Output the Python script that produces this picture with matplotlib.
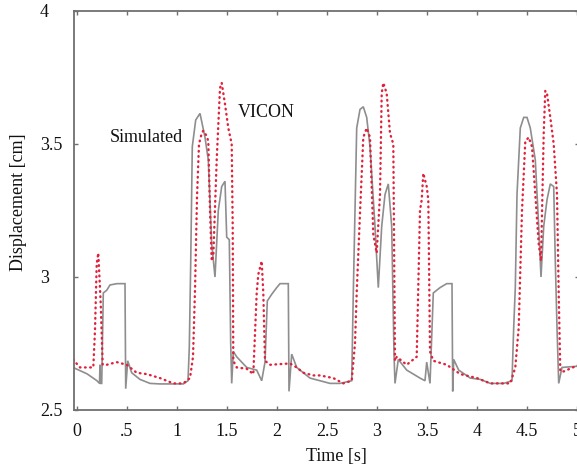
import matplotlib
matplotlib.use("Agg")
import matplotlib.pyplot as plt

# ---- data ----
sim_t = [-0.04, 0.10, 0.20, 0.225, 0.23, 0.235, 0.247, 0.263, 0.297, 0.33, 0.40, 0.48, 0.487, 0.507,
         0.547, 0.63, 0.73, 0.83, 1.063, 1.11, 1.123, 1.137, 1.153, 1.187, 1.23, 1.28, 1.313,
         1.347, 1.38, 1.413, 1.447, 1.48, 1.497, 1.523, 1.537, 1.547, 1.563, 1.597, 1.697,
         1.797, 1.847, 1.88, 1.903, 1.947, 1.997, 2.03, 2.113, 2.12, 2.147, 2.197, 2.33, 2.43,
         2.53, 2.63, 2.747, 2.763, 2.78, 2.797, 2.83, 2.863, 2.897, 2.93, 2.98, 3.013, 3.047,
         3.08, 3.113, 3.147, 3.17, 3.18, 3.213, 3.297, 3.43, 3.48, 3.497, 3.53, 3.563, 3.63,
         3.697, 3.75, 3.757, 3.767, 3.817, 3.933, 4.033, 4.133, 4.267, 4.35, 4.367, 4.383,
         4.40, 4.433, 4.467, 4.50, 4.533, 4.583, 4.617, 4.64, 4.667, 4.70, 4.733, 4.767,
         4.783, 4.80, 4.817, 4.85, 5.02]
sim_v = [2.66, 2.636, 2.61, 2.60, 2.67, 2.60, 2.60, 2.94, 2.95, 2.97, 2.975, 2.975, 2.58, 2.685,
         2.64, 2.615, 2.60, 2.598, 2.598, 2.61, 2.735, 3.05, 3.49, 3.59, 3.615, 3.525, 3.44,
         3.125, 3.00, 3.25, 3.34, 3.36, 3.15, 3.14, 2.75, 2.60, 2.72, 2.70, 2.66,
         2.65, 2.61, 2.68, 2.91, 2.935, 2.96, 2.975, 2.975, 2.57, 2.71, 2.66, 2.62, 2.61,
         2.60, 2.60, 2.61, 2.94, 3.25, 3.56, 3.63, 3.64, 3.60, 3.49, 3.19, 2.96, 3.19,
         3.31, 3.35, 3.19, 2.71, 2.60, 2.69, 2.65, 2.62, 2.61, 2.68, 2.60, 2.94, 2.96,
         2.975, 2.975, 2.57, 2.69, 2.65, 2.62, 2.615, 2.60, 2.60, 2.61, 2.81, 2.96,
         3.31, 3.56, 3.60, 3.60, 3.56, 3.44, 3.19, 3.00, 3.19, 3.29, 3.35, 3.34,
         3.06, 2.81, 2.60, 2.66, 2.665]

vicon_t = [-0.04, 0.03, 0.163, 0.18, 0.197, 0.213, 0.237, 0.257, 0.297, 0.397, 0.497, 0.597,
           0.697, 0.83, 0.963, 1.063, 1.13, 1.16, 1.18, 1.20, 1.22, 1.247, 1.263, 1.297, 1.313,
           1.33, 1.347, 1.363, 1.397, 1.43, 1.447, 1.48, 1.513, 1.547, 1.557, 1.563, 1.597,
           1.697, 1.763, 1.797, 1.813, 1.847, 1.863, 1.88, 1.93, 2.13, 2.197, 2.263, 2.363,
           2.43, 2.563, 2.663, 2.747, 2.78, 2.797, 2.83, 2.863, 2.897, 2.93, 2.963, 2.997,
           3.03, 3.047, 3.063, 3.097, 3.13, 3.163, 3.18, 3.197, 3.297, 3.397, 3.43, 3.447,
           3.463, 3.497, 3.513, 3.53, 3.563, 3.697, 3.833, 4.0, 4.133, 4.333, 4.383, 4.417,
           4.45, 4.483, 4.517, 4.55, 4.583, 4.617, 4.64, 4.667, 4.683, 4.70, 4.733, 4.767,
           4.80, 4.817, 4.833, 4.867, 5.02]
vicon_v = [2.69, 2.66, 2.66, 2.80, 3.05, 3.09, 2.90, 2.67, 2.67, 2.68, 2.67, 2.64,
           2.635, 2.62, 2.60, 2.60, 2.62, 2.70, 2.95, 3.30, 3.50, 3.54, 3.55, 3.53, 3.51,
           3.25, 3.06, 3.08, 3.44, 3.71, 3.73, 3.65, 3.56, 3.50, 3.19, 2.685, 2.66,
           2.655, 2.635, 2.94, 3.01, 3.06, 2.94, 2.685, 2.67, 2.675, 2.66, 2.64, 2.63,
           2.63, 2.62, 2.60, 2.61, 2.75, 2.94, 3.24, 3.525, 3.56, 3.525, 3.16, 3.09,
           3.31, 3.69, 3.73, 3.69, 3.54, 3.50, 2.685, 2.70, 2.67, 2.70, 3.25, 3.29,
           3.39, 3.34, 3.29, 2.72, 2.685, 2.67, 2.635, 2.62, 2.60, 2.60, 2.66, 2.81,
           3.25, 3.51, 3.525, 3.49, 3.31, 3.125, 3.06, 3.54, 3.70, 3.69, 3.60, 3.50,
           3.31, 2.94, 2.645, 2.645, 2.67]

xticks = [0, 0.5, 1, 1.5, 2, 2.5, 3, 3.5, 4, 4.5, 5]
xtick_labels = ["0", ".5", "1", "1.5", "2", "2.5", "3", "3.5", "4", "4.5", "5"]
yticks = [2.5, 3, 3.5, 4]
ytick_labels = ["2.5", "3", "3.5", "4"]

# ---- figure ----
W, H = 577, 468
fig = plt.figure(figsize=(W / 100, H / 100), dpi=100)
plt.rcParams["font.family"] = ["Liberation Serif", "DejaVu Serif"]

left, right, top, bottom = 74, 579, 11, 410
ax = fig.add_axes([left / W, 1 - bottom / H, (right - left) / W, (bottom - top) / H])

spine_col = "#707070"
ax.plot(sim_t, sim_v, color="#8e8e8e", lw=1.2, solid_joinstyle="miter", zorder=2)
ax.plot(vicon_t, vicon_v, color="#e2203a", lw=1.7, linestyle=(0, (0.3, 1.9)),
        dash_capstyle="round", zorder=3)

ax.set_xlim(-0.03, 5.02)
ax.set_ylim(2.5, 4.0)

ax.set_xticks(xticks)
ax.set_xticklabels(xtick_labels)
ax.set_yticks(yticks)
ax.set_yticklabels(ytick_labels)

for s in ax.spines.values():
    s.set_color(spine_col)
    s.set_linewidth(1.3)

ax.tick_params(axis="both", direction="in", length=3, width=1, color=spine_col,
               top=True, right=True, labelsize=13, labelcolor="#111111")
ax.tick_params(axis="x", pad=9.5)
ax.tick_params(axis="y", pad=24.5)
for lab in ax.get_yticklabels():
    lab.set_horizontalalignment("left")

ax.text(0.69, 3.526, "Simulated", fontsize=13, ha="center", va="center", color="#111111")
ax.text(1.89, 3.617, "VICON", fontsize=13, ha="center", va="center", color="#111111")

fig.text(336 / W, 1 - 456 / H, "Time [s]", fontsize=13, ha="center", va="center",
         color="#111111")
fig.text(19 / W, 1 - 202 / H, "Displacement [cm]", fontsize=13, ha="center", va="center",
         rotation=90, color="#111111")

fig.savefig("out.png", dpi=100)
